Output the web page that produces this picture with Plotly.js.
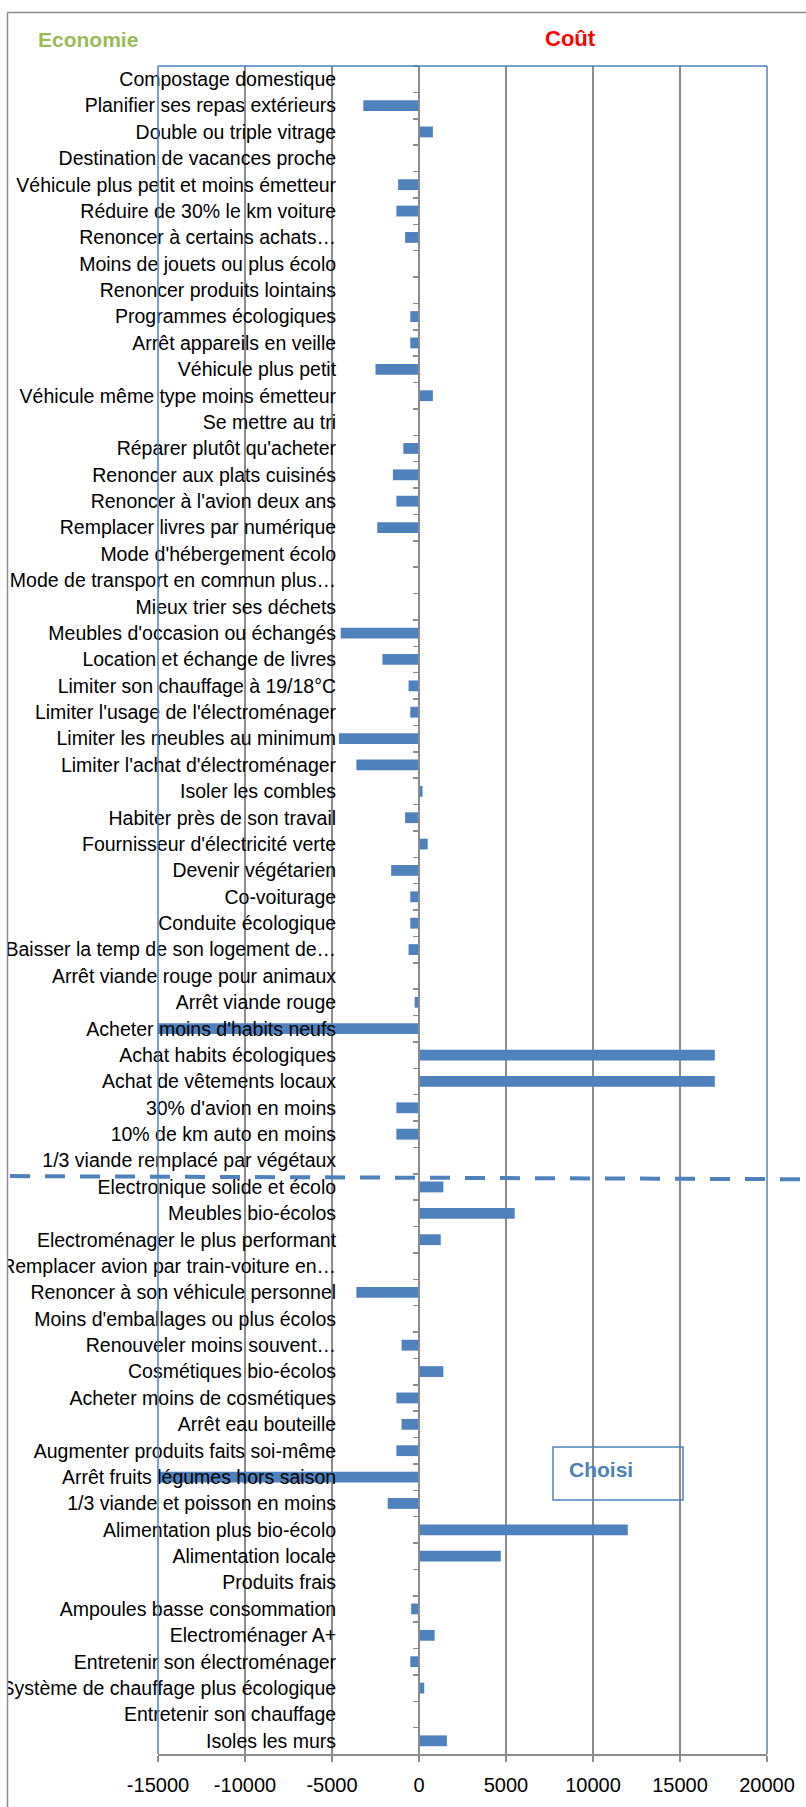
<!DOCTYPE html>
<html>
<head>
<meta charset="utf-8">
<script src="https://cdn.plot.ly/plotly-3.0.1.min.js"></script>
<style>
html,body{margin:0;padding:0;background:#fff;}
#chart{width:806px;height:1807px;}
</style>
</head>
<body>
<div id="chart"></div>
<script>
const categories = [
  "Compostage domestique",
  "Planifier ses repas extérieurs",
  "Double ou triple vitrage",
  "Destination de vacances proche",
  "Véhicule plus petit et moins émetteur",
  "Réduire de 30% le km voiture",
  "Renoncer à certains achats…",
  "Moins de jouets ou plus écolo",
  "Renoncer produits lointains",
  "Programmes écologiques",
  "Arrêt appareils en veille",
  "Véhicule plus petit",
  "Véhicule même type moins émetteur",
  "Se mettre au tri",
  "Réparer plutôt qu'acheter",
  "Renoncer aux plats cuisinés",
  "Renoncer à l'avion deux ans",
  "Remplacer livres par numérique",
  "Mode d'hébergement écolo",
  "Mode de transport en commun plus…",
  "Mieux trier ses déchets",
  "Meubles d'occasion ou échangés",
  "Location et échange de livres",
  "Limiter son chauffage à 19/18°C",
  "Limiter l'usage de l'électroménager",
  "Limiter les meubles au minimum",
  "Limiter l'achat d'électroménager",
  "Isoler les combles",
  "Habiter près de son travail",
  "Fournisseur d'électricité verte",
  "Devenir végétarien",
  "Co-voiturage",
  "Conduite écologique",
  "Baisser la temp de son logement de…",
  "Arrêt viande rouge pour animaux",
  "Arrêt viande rouge",
  "Acheter moins d'habits neufs",
  "Achat habits écologiques",
  "Achat de vêtements locaux",
  "30% d'avion en moins",
  "10% de km auto en moins",
  "1/3 viande remplacé par végétaux",
  "Electronique solide et écolo",
  "Meubles bio-écolos",
  "Electroménager le plus performant",
  "Remplacer avion par train-voiture en…",
  "Renoncer à son véhicule personnel",
  "Moins d'emballages ou plus écolos",
  "Renouveler moins souvent…",
  "Cosmétiques bio-écolos",
  "Acheter moins de cosmétiques",
  "Arrêt eau bouteille",
  "Augmenter produits faits soi-même",
  "Arrêt fruits légumes hors saison",
  "1/3 viande et poisson en moins",
  "Alimentation plus bio-écolo",
  "Alimentation locale",
  "Produits frais",
  "Ampoules basse consommation",
  "Electroménager A+",
  "Entretenir son électroménager",
  "Système de chauffage plus écologique",
  "Entretenir son chauffage",
  "Isoles les murs"
];

const values = [
  0, -3200, 800, 0, -1200, -1300, -800, 0, 0, -500,
  -500, -2500, 800, 0, -900, -1500, -1300, -2400, 0, 0,
  0, -4500, -2100, -600, -500, -4600, -3600, 200, -800, 500,
  -1600, -500, -500, -600, 0, -250, -15000, 17000, 17000, -1300,
  -1300, 0, 1400, 5500, 1250, 0, -3600, 0, -1000, 1400,
  -1300, -1000, -1300, -15000, -1800, 12000, 4700, 0, -450, 900,
  -500, 300, 0, 1600
];

const xTickValues = [-15000, -10000, -5000, 0, 5000, 10000, 15000, 20000];
const xRange = [-15000, 20000];

const headerLeft = "Economie";
const headerRight = "Coût";
const boxLabel = "Choisi";
const splitAfter = "1/3 viande remplacé par végétaux";

const W = 806, H = 1807;
const L = 158, R = 767, T = 66, B = 1754;
const blue = "#4F81BD";
const gray = "#8C8C8C";

function px2paperX(px){ return (px - L) / (R - L); }
function px2paperY(py){ return (B - py) / (B - T); }

const zeroPos = (0 - xRange[0]) / (xRange[1] - xRange[0]);
const splitIndex = categories.indexOf(splitAfter);

const trace = {
  type: "bar",
  orientation: "h",
  x: values,
  y: categories,
  marker: { color: blue, line: { width: 0 } },
  width: 0.41,
  hoverinfo: "x+y"
};

const layout = {
  width: W,
  height: H,
  margin: { l: L, r: W - R, t: T, b: H - B, pad: 0 },
  paper_bgcolor: "#ffffff",
  plot_bgcolor: "#ffffff",
  showlegend: false,
  font: { family: "Liberation Sans, Arial, sans-serif", color: "#000000" },
  xaxis: {
    range: xRange,
    tickvals: xTickValues,
    ticktext: xTickValues.map(String),
    showgrid: true,
    gridcolor: gray,
    gridwidth: 1.5,
    zeroline: false,
    showline: true,
    linecolor: gray,
    linewidth: 2,
    ticks: "outside",
    ticklen: 6,
    tickcolor: gray,
    tickwidth: 1.5,
    ticklabelstandoff: 6,
    tickfont: { size: 20, family: "Liberation Sans, Arial, sans-serif", color: "#000" },
    fixedrange: true
  },
  yaxis: {
    type: "category",
    categoryorder: "array",
    categoryarray: categories,
    autorange: "reversed",
    anchor: "free",
    position: zeroPos,
    showgrid: false,
    zeroline: false,
    showline: true,
    linecolor: gray,
    linewidth: 2,
    ticks: "outside",
    ticklen: 5,
    tickcolor: gray,
    tickwidth: 1.5,
    tickson: "boundaries",
    ticklabelstandoff: 78,
    tickfont: { size: 19.5, family: "Liberation Sans, Arial, sans-serif", color: "#000" },
    automargin: false,
    fixedrange: true
  },
  shapes: [
    { type: "line", xref: "paper", yref: "paper", x0: 0, x1: 0, y0: 0, y1: 1, line: { color: blue, width: 1.5 }, layer: "above" },
    { type: "line", xref: "paper", yref: "paper", x0: 0, x1: 1, y0: 1, y1: 1, line: { color: blue, width: 1.5 }, layer: "above" },
    { type: "line", xref: "paper", yref: "paper", x0: 1, x1: 1, y0: 0, y1: 1, line: { color: blue, width: 1.5 }, layer: "above" },
    { type: "rect", xref: "paper", yref: "paper", x0: px2paperX(-2), x1: px2paperX(7), y0: px2paperY(H + 2), y1: px2paperY(-2), fillcolor: "#ffffff", line: { width: 0 }, layer: "above" },
    { type: "line", xref: "paper", yref: "paper", x0: px2paperX(7.5), x1: px2paperX(7.5), y0: px2paperY(H + 2), y1: px2paperY(12.5), line: { color: gray, width: 1.5 }, layer: "above" },
    { type: "line", xref: "paper", yref: "paper", x0: px2paperX(7.5), x1: px2paperX(W + 2), y0: px2paperY(12.5), y1: px2paperY(12.5), line: { color: gray, width: 1.5 }, layer: "above" },
    { type: "line", xref: "paper", yref: "y", x0: px2paperX(10), x1: px2paperX(W + 2), y0: splitIndex + 0.59, y1: splitIndex + 0.71, line: { color: blue, width: 4, dash: "20px,15px" }, layer: "above" },
    { type: "rect", xref: "paper", yref: "paper", x0: px2paperX(553), x1: px2paperX(683), y0: px2paperY(1500), y1: px2paperY(1447), fillcolor: "rgba(255,255,255,0)", line: { color: blue, width: 1.5 }, layer: "above" }
  ],
  annotations: [
    { text: "<b>" + headerLeft + "</b>", xref: "paper", yref: "paper", x: px2paperX(88), y: px2paperY(40), xanchor: "center", yanchor: "middle", showarrow: false, font: { size: 21, color: "#9BBB59", family: "Liberation Sans, Arial, sans-serif" } },
    { text: "<b>" + headerRight + "</b>", xref: "paper", yref: "paper", x: px2paperX(570), y: px2paperY(38), xanchor: "center", yanchor: "middle", showarrow: false, font: { size: 22, color: "#FF0000", family: "Liberation Sans, Arial, sans-serif" } },
    { text: "<b>" + boxLabel + "</b>", xref: "paper", yref: "paper", x: px2paperX(567), y: px2paperY(1469), xanchor: "left", yanchor: "middle", showarrow: false, font: { size: 21, color: blue, family: "Liberation Sans, Arial, sans-serif" } }
  ]
};

Plotly.newPlot("chart", [trace], layout, { displayModeBar: false, staticPlot: true });
</script>
</body>
</html>
